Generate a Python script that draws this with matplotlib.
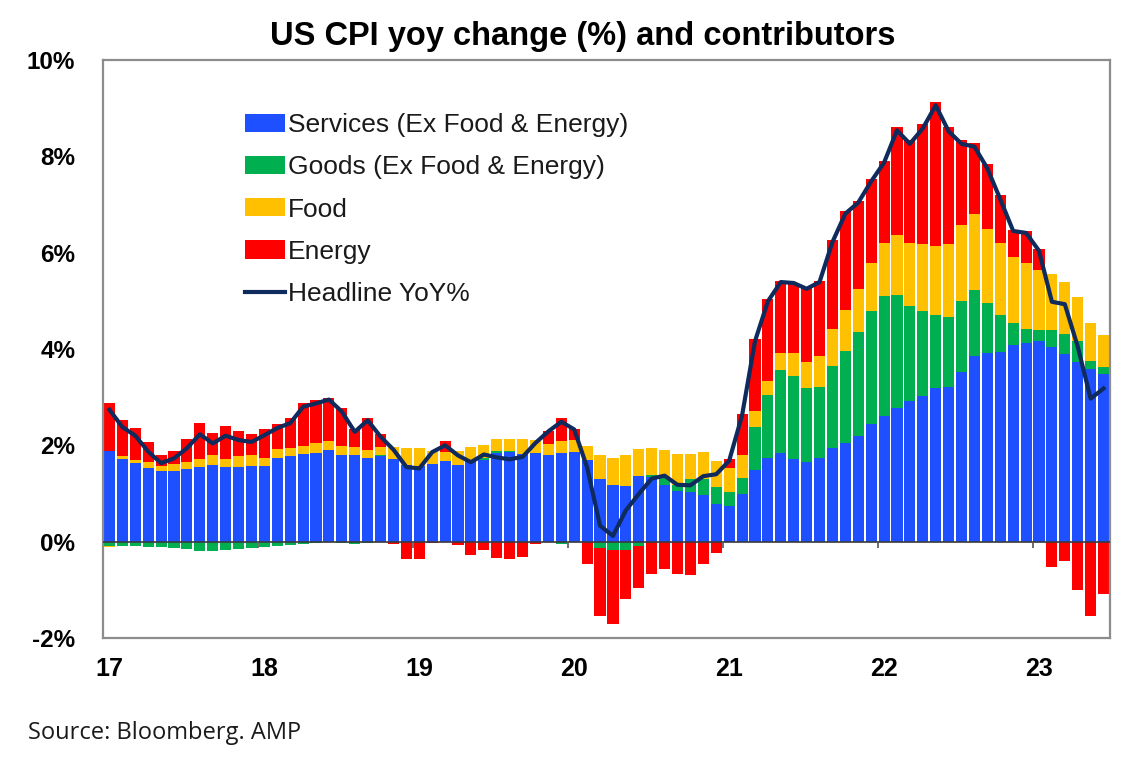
import matplotlib
matplotlib.use("Agg")
import matplotlib.pyplot as plt
import numpy as np
from matplotlib.patches import Patch
from matplotlib.lines import Line2D

# Monthly, Feb 2017 .. Jul 2023 (contributions in percentage points)
services = [1.89, 1.72, 1.63, 1.53, 1.47, 1.47, 1.51, 1.54, 1.60, 1.54, 1.55,
            1.57, 1.57, 1.74, 1.77, 1.83, 1.84, 1.90, 1.80, 1.79, 1.74, 1.77, 1.72,
            1.59, 1.57, 1.61, 1.67, 1.60, 1.67, 1.70, 1.84, 1.86, 1.82, 1.84, 1.79,
            1.84, 1.87, 1.70, 1.30, 1.18, 1.15, 1.36, 1.34, 1.17, 1.05, 1.04, 0.97,
            0.79, 0.75, 0.98, 1.49, 1.74, 1.84, 1.72, 1.65, 1.74, 1.94, 2.05, 2.20,
            2.44, 2.61, 2.77, 2.92, 3.03, 3.20, 3.22, 3.52, 3.86, 3.91, 3.94, 4.08,
            4.12, 4.16, 4.05, 3.90, 3.73, 3.58, 3.48]
goods = [-0.08, -0.09, -0.10, -0.12, -0.12, -0.13, -0.16, -0.19, -0.19, -0.17, -0.15,
         -0.13, -0.12, -0.08, -0.07, -0.05, -0.03, -0.01, -0.03, -0.05, -0.02, 0.03, 0.00,
         0.00, 0.00, 0.00, 0.00, 0.00, 0.02, 0.04, 0.04, 0.03, 0.01, 0.01, 0.00,
         -0.05, 0.00, 0.00, -0.14, -0.17, -0.17, -0.08, 0.05, 0.17, 0.13, 0.26, 0.33,
         0.34, 0.28, 0.34, 0.90, 1.30, 1.73, 1.71, 1.55, 1.47, 1.71, 1.90, 2.15,
         2.35, 2.49, 2.36, 1.97, 1.76, 1.50, 1.45, 1.47, 1.37, 1.05, 0.76, 0.46,
         0.30, 0.23, 0.34, 0.42, 0.44, 0.17, 0.15]
food = [-0.03, 0.05, 0.07, 0.12, 0.10, 0.14, 0.15, 0.18, 0.19, 0.18, 0.22,
        0.22, 0.17, 0.18, 0.17, 0.16, 0.20, 0.19, 0.19, 0.18, 0.16, 0.16, 0.24,
        0.35, 0.37, 0.27, 0.20, 0.29, 0.27, 0.26, 0.25, 0.24, 0.30, 0.27, 0.24,
        0.24, 0.24, 0.28, 0.50, 0.55, 0.64, 0.56, 0.55, 0.56, 0.64, 0.52, 0.57,
        0.55, 0.49, 0.47, 0.33, 0.30, 0.34, 0.48, 0.52, 0.65, 0.76, 0.86, 0.90,
        1.00, 1.10, 1.23, 1.31, 1.40, 1.43, 1.52, 1.59, 1.58, 1.53, 1.50, 1.38,
        1.37, 1.26, 1.17, 1.07, 0.91, 0.79, 0.67]
energy = [0.98, 0.76, 0.66, 0.41, 0.23, 0.27, 0.47, 0.75, 0.47, 0.69, 0.52,
          0.44, 0.60, 0.52, 0.62, 0.88, 0.90, 0.89, 0.78, 0.37, 0.67, 0.27, -0.04,
          -0.35, -0.37, -0.02, 0.21, -0.07, -0.27, -0.17, -0.34, -0.35, -0.32, -0.04, 0.27,
          0.48, 0.23, -0.46, -1.40, -1.53, -1.01, -0.88, -0.68, -0.57, -0.68, -0.70, -0.46,
          -0.23, 0.20, 0.86, 1.48, 1.69, 1.51, 1.47, 1.55, 1.56, 1.86, 2.05, 1.82,
          1.74, 1.71, 2.24, 2.14, 2.49, 3.00, 2.42, 1.76, 1.47, 1.35, 1.00, 0.56,
          0.65, 0.43, -0.52, -0.41, -1.00, -1.54, -1.09]
headline = [2.74, 2.38, 2.20, 1.87, 1.63, 1.73, 1.94, 2.23, 2.04, 2.20, 2.11,
            2.07, 2.21, 2.36, 2.46, 2.80, 2.87, 2.95, 2.70, 2.28, 2.52, 2.18, 1.91,
            1.55, 1.52, 1.86, 2.00, 1.79, 1.65, 1.81, 1.75, 1.71, 1.76, 2.05, 2.29,
            2.49, 2.33, 1.54, 0.33, 0.12, 0.65, 0.99, 1.31, 1.37, 1.18, 1.17, 1.36,
            1.40, 1.68, 2.62, 4.16, 4.99, 5.39, 5.37, 5.25, 5.39, 6.22, 6.81, 7.04,
            7.48, 7.87, 8.54, 8.26, 8.58, 9.06, 8.52, 8.26, 8.20, 7.75, 7.11, 6.45,
            6.41, 6.04, 4.98, 4.93, 4.05, 2.97, 3.18]
year_labels = ["17", "18", "19", "20", "21", "22", "23"]
series_names = ["Services (Ex Food & Energy)", "Goods (Ex Food & Energy)", "Food", "Energy"]
line_name = "Headline YoY%"

colors = ["#1E50FF", "#00B050", "#FFC000", "#FF0000"]
line_color = "#0F2A5C"

plt.rcParams['font.family'] = ['Liberation Sans', 'DejaVu Sans']

fig = plt.figure(figsize=(11.38, 7.64), dpi=100)
ax = fig.add_axes([103/1138, 1-638/764, (1110-103)/1138, (638-60)/764])

n = len(services)
x = np.arange(n)
data = np.array([services, goods, food, energy])
pos_base = np.zeros(n)
neg_base = np.zeros(n)
for vals, c in zip(data, colors):
    b = np.where(vals >= 0, pos_base, neg_base)
    ax.bar(x, vals, bottom=b, width=0.86, color=c, linewidth=0, zorder=2)
    pos_base = pos_base + np.clip(vals, 0, None)
    neg_base = neg_base + np.clip(vals, None, 0)

ax.plot(x, headline, color=line_color, lw=3.0, solid_joinstyle='round', zorder=4)
ax.axhline(0, color="#3a3a3a", lw=1.2, zorder=3)

ax.set_xlim(-0.5, n - 0.5)
ax.set_ylim(-2, 10)

# year labels; tick marks at year boundaries on the zero line
ax.set_xticks(np.arange(0, n, 12))
ax.set_xticklabels(year_labels, fontsize=18, fontweight='bold')
ax.tick_params(axis='x', length=0, pad=14)
bounds = np.arange(11.5, n, 12)
ax.vlines(bounds, -0.14, 0, color="#555555", lw=1.2, zorder=3)

ax.set_yticks(np.arange(-2, 11, 2))
ax.set_yticklabels([f"{v}%" for v in range(-2, 11, 2)], fontsize=17.5, fontweight='bold')
ax.tick_params(axis='y', length=0, pad=20)

for s in ax.spines.values():
    s.set_color("#8C8C8C")
    s.set_linewidth(1.6)

handles = [Patch(facecolor=c, edgecolor='none') for c in colors]
handles.append(Line2D([0], [0], color=line_color, lw=3))
leg = ax.legend(handles, series_names + [line_name], loc='upper left',
                bbox_to_anchor=(0.141, 0.908), frameon=False, fontsize=19,
                handlelength=1.5, handleheight=0.68, handletextpad=0.12,
                labelspacing=0.69, borderaxespad=0, borderpad=0)
for t in leg.get_texts():
    t.set_color("#1a1a1a")

fig.text(583/1138, 1-36/764, "US CPI yoy change (%) and contributors",
         ha='center', va='center', fontsize=23.5, fontweight='bold')
fig.text(28/1138, 1-733/764, "Source: Bloomberg. AMP", ha='left', va='center',
         fontsize=17, family=['Open Sans', 'DejaVu Sans'], color="#1a1a1a")

fig.savefig("out.png", dpi=100)
